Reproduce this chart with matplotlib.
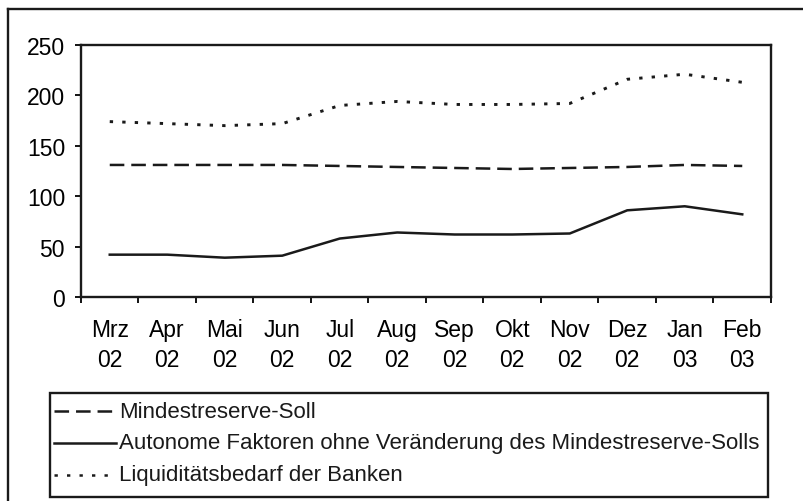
import matplotlib
matplotlib.use("Agg")
import matplotlib.pyplot as plt
from matplotlib.lines import Line2D
from matplotlib.patches import Rectangle
import numpy as np

W, H = 804, 502

months = ["Mrz", "Apr", "Mai", "Jun", "Jul", "Aug", "Sep", "Okt", "Nov", "Dez", "Jan", "Feb"]
years = ["02", "02", "02", "02", "02", "02", "02", "02", "02", "02", "03", "03"]

mindestreserve = [131, 131, 131, 131, 130, 129, 128, 127, 128, 129, 131, 130]
autonome = [42, 42, 39, 41, 58, 64, 62, 62, 63, 86, 90, 82]
liquiditaet = [174, 172, 170, 172, 190, 194, 191, 191, 192, 216, 221, 213]

labels = [
    "Mindestreserve-Soll",
    "Autonome Faktoren ohne Veränderung des Mindestreserve-Solls",
    "Liquiditätsbedarf der Banken",
]

plt.rcParams["font.family"] = ["Liberation Sans", "DejaVu Sans"]
plt.rcParams["lines.scale_dashes"] = False

DASHED = (0, (10.5, 5.0))
DOTTED = (0, (2.4, 6.6))
LW = 1.8
INK = "#1a1a1a"
FS = 16.5
LEGEND_FS = 16


def fx(x):
    return x / W


def fy(y):
    return 1 - y / H


fig = plt.figure(figsize=(W / 100, H / 100), dpi=100)
ax = fig.add_axes([fx(81), fy(298), (771 - 81) / W, (298 - 46) / H])

x = np.arange(len(months))
ax.plot(x, mindestreserve, color=INK, lw=LW, linestyle=DASHED)
ax.plot(x, autonome, color=INK, lw=LW)
ax.plot(x, liquiditaet, color=INK, lw=LW + 0.3, linestyle=DOTTED)

ax.set_xlim(-0.5, len(months) - 0.5)
ax.set_ylim(0, 250)
ax.set_yticks(np.arange(0, 251, 50))
ax.set_xticks(np.arange(-0.5, len(months), 1.0))
ax.set_xticklabels([])
ax.set_xticks(x, minor=True)
ax.set_xticklabels([f"{m}\n{y}" for m, y in zip(months, years)], minor=True, linespacing=1.4)
ax.tick_params(axis="x", which="major", length=4, width=1.3, direction="out")
ax.tick_params(axis="x", which="minor", length=0, pad=15, labelsize=FS)
ax.tick_params(axis="y", length=4, width=1.3, direction="out", pad=7.5, labelsize=FS)
for s in ax.spines.values():
    s.set_linewidth(1.7)
    s.set_color(INK)

# outer frame (left and top edges visible)
fig.add_artist(Line2D([fx(8), fx(8)], [fy(10), fy(H + 5)], transform=fig.transFigure, color=INK, lw=1.7))
fig.add_artist(Line2D([fx(8), fx(W + 5)], [fy(10), fy(10)], transform=fig.transFigure, color=INK, lw=1.7))

# legend box
fig.add_artist(Rectangle((fx(50), fy(498)), (768 - 50) / W, (498 - 394) / H, transform=fig.transFigure,
                         fill=False, edgecolor=INK, lw=1.7))
styles = [DASHED, "-", DOTTED]
rows = [412, 444, 476]
for label, style, row in zip(labels, styles, rows):
    fig.add_artist(Line2D([fx(54), fx(116)], [fy(row), fy(row)], transform=fig.transFigure,
                          color=INK, lw=LW, linestyle=style))
    fig.text(fx(119), fy(row), label, fontsize=LEGEND_FS, va="center", ha="left", color=INK)

fig.savefig("out.png", dpi=100)
